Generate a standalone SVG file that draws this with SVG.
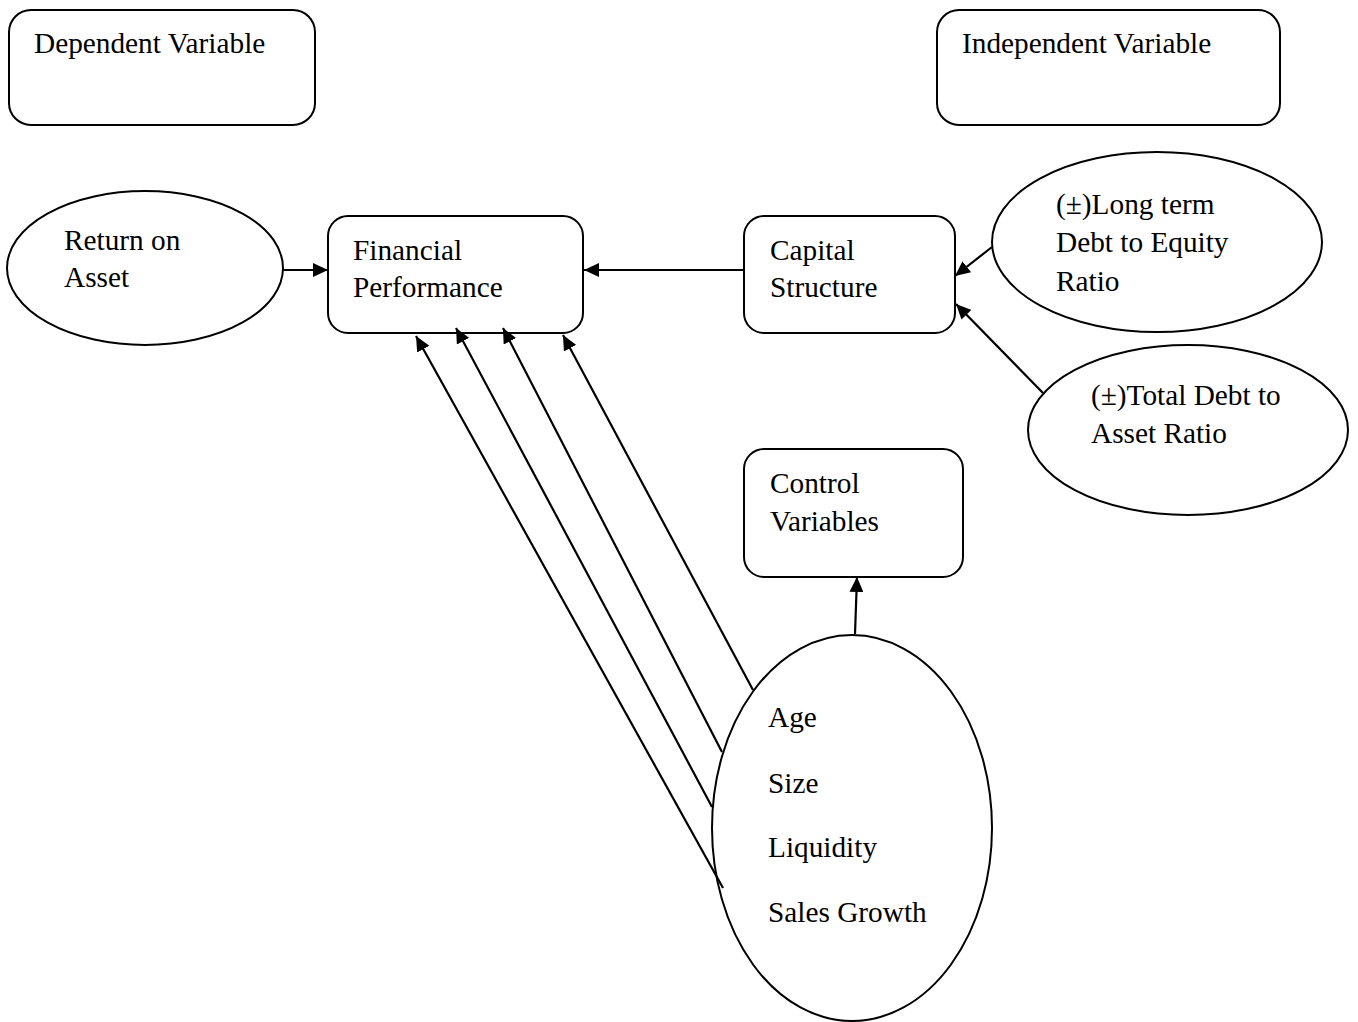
<svg xmlns="http://www.w3.org/2000/svg" width="1358" height="1022" viewBox="0 0 1358 1022">
<style>
.shape{fill:#fff;stroke:#000;stroke-width:2}
.t{font-family:'Liberation Serif','Times New Roman',Times,'DejaVu Serif',serif;font-size:29.3px;fill:#000}
.c{stroke:#000;stroke-width:2.2;fill:none;marker-end:url(#ah)}
</style>
<defs>
<marker id="ah" markerUnits="userSpaceOnUse" markerWidth="16" markerHeight="14" refX="15" refY="7" orient="auto">
<path d="M0,0 L15,7 L0,14 z" fill="#000"/>
</marker>
</defs>
<rect width="1358" height="1022" fill="#fff"/>
<g id="dependent-variable">
<rect class="shape" x="9" y="10" width="306" height="115" rx="22"/>
<text class="t" x="34" y="53">Dependent Variable</text>
</g>
<g id="independent-variable">
<rect class="shape" x="937" y="10" width="343" height="115" rx="22"/>
<text class="t" x="962" y="53">Independent Variable</text>
</g>
<g id="return-on-asset">
<ellipse class="shape" cx="145" cy="268" rx="138" ry="77"/>
<text class="t" x="64" y="250">Return on</text>
<text class="t" x="64" y="287">Asset</text>
</g>
<g id="financial-performance">
<rect class="shape" x="328" y="216" width="255" height="117" rx="20"/>
<text class="t" x="353" y="260">Financial</text>
<text class="t" x="353" y="297">Performance</text>
</g>
<g id="capital-structure">
<rect class="shape" x="744" y="216" width="211" height="117" rx="20"/>
<text class="t" x="770" y="260">Capital</text>
<text class="t" x="770" y="297">Structure</text>
</g>
<g id="long-term-debt">
<ellipse class="shape" cx="1157" cy="242" rx="165" ry="90"/>
<text class="t" x="1056" y="214">(±)Long term</text>
<text class="t" x="1056" y="252">Debt to Equity</text>
<text class="t" x="1056" y="291">Ratio</text>
</g>
<g id="total-debt">
<ellipse class="shape" cx="1188" cy="430" rx="160" ry="85"/>
<text class="t" x="1091" y="405">(±)Total Debt to</text>
<text class="t" x="1091" y="443">Asset Ratio</text>
</g>
<g id="control-variables">
<rect class="shape" x="744" y="449" width="219" height="128" rx="20"/>
<text class="t" x="770" y="493">Control</text>
<text class="t" x="770" y="531">Variables</text>
</g>
<g id="control-list">
<ellipse class="shape" cx="852" cy="828" rx="140" ry="193"/>
<text class="t" x="768" y="727">Age</text>
<text class="t" x="768" y="793">Size</text>
<text class="t" x="768" y="857">Liquidity</text>
<text class="t" x="768" y="922">Sales Growth</text>
</g>
<g id="connectors">
<line class="c" x1="283" y1="270" x2="328" y2="270"/>
<line class="c" x1="744" y1="270" x2="584" y2="270"/>
<line class="c" x1="992" y1="247" x2="955" y2="276"/>
<line class="c" x1="1043" y1="393" x2="956" y2="304"/>
<line class="c" x1="855" y1="634" x2="857" y2="577"/>
<line class="c" x1="753" y1="690" x2="563" y2="335"/>
<line class="c" x1="722" y1="752" x2="503" y2="328"/>
<line class="c" x1="712" y1="807" x2="456" y2="328"/>
<line class="c" x1="723" y1="888" x2="416" y2="336"/>
</g>
</svg>
